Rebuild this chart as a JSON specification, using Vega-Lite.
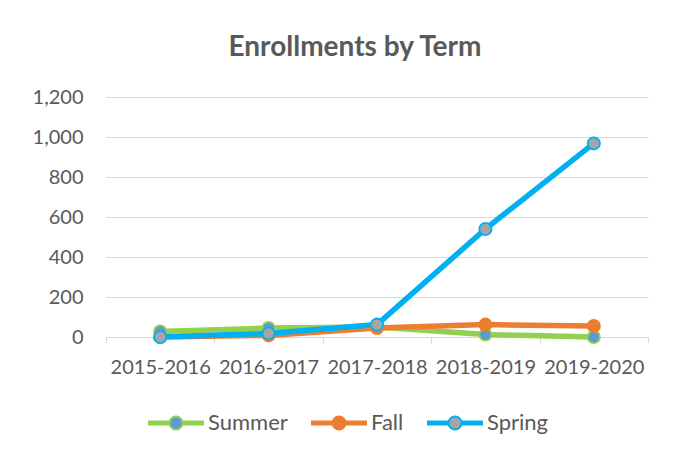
{
  "$schema": "https://vega.github.io/schema/vega-lite/v6.json",
  "width": 542,
  "height": 240,
  "autosize": {"type": "none"},
  "padding": {"left": 106, "top": 97, "right": 32, "bottom": 123},
  "background": "white",
  "title": {
    "text": "Enrollments by Term",
    "font": "Lato",
    "fontSize": 28,
    "fontWeight": "bold",
    "color": "#595959",
    "anchor": "middle",
    "frame": "group",
    "baseline": "alphabetic",
    "offset": 3,
    "dx": -22
  },
  "data": {
    "values": [
      {"term": "2015-2016", "series": "Summer", "value": 28},
      {"term": "2016-2017", "series": "Summer", "value": 45},
      {"term": "2017-2018", "series": "Summer", "value": 50},
      {"term": "2018-2019", "series": "Summer", "value": 12},
      {"term": "2019-2020", "series": "Summer", "value": 0},
      {"term": "2015-2016", "series": "Fall", "value": 0},
      {"term": "2016-2017", "series": "Fall", "value": 8},
      {"term": "2017-2018", "series": "Fall", "value": 45},
      {"term": "2018-2019", "series": "Fall", "value": 62},
      {"term": "2019-2020", "series": "Fall", "value": 55},
      {"term": "2015-2016", "series": "Spring", "value": 0},
      {"term": "2016-2017", "series": "Spring", "value": 18},
      {"term": "2017-2018", "series": "Spring", "value": 62},
      {"term": "2018-2019", "series": "Spring", "value": 540},
      {"term": "2019-2020", "series": "Spring", "value": 968}
    ]
  },
  "encoding": {
    "x": {
      "field": "term",
      "type": "ordinal",
      "scale": {"type": "band", "paddingInner": 0, "paddingOuter": 0},
      "axis": {
        "title": null,
        "labelAngle": 0,
        "labelFont": "Lato",
        "labelFontSize": 20,
        "labelColor": "#595959",
        "labelPadding": 14,
        "domainColor": "#D9D9D9",
        "domainWidth": 1,
        "tickColor": "#D9D9D9",
        "tickSize": 6,
        "tickBand": "extent",
        "grid": false
      }
    },
    "y": {
      "field": "value",
      "type": "quantitative",
      "scale": {"domain": [0, 1200], "nice": false},
      "axis": {
        "title": null,
        "values": [0, 200, 400, 600, 800, 1000, 1200],
        "format": ",d",
        "labelFont": "Lato",
        "labelFontSize": 20,
        "labelColor": "#595959",
        "labelPadding": 23,
        "ticks": false,
        "tickSize": 0,
        "domain": false,
        "grid": true,
        "gridColor": "#D9D9D9",
        "gridWidth": 1
      }
    }
  },
  "layer": [
    {
      "mark": {"type": "line", "strokeWidth": 5.5, "strokeCap": "round", "strokeJoin": "round"},
      "encoding": {
        "detail": {"field": "series"},
        "stroke": {
          "field": "series",
          "type": "nominal",
          "scale": {"domain": ["Summer", "Fall", "Spring"], "range": ["#92D050", "#ED7D31", "#00B0F0"]},
          "legend": {
            "orient": "none",
            "direction": "horizontal",
            "legendX": 41,
            "legendY": 297,
            "title": null,
            "padding": 0,
            "symbolType": "M-1,-0.054L-0.226,-0.054M-1,0L-0.232,0M-1,0.054L-0.226,0.054M0.226,-0.054L1,-0.054M0.232,0L1,0M0.226,0.054L1,0.054M0.232,0A0.232,0.232,0,1,1,-0.232,0A0.232,0.232,0,1,1,0.232,0Z",
            "symbolSize": 3136,
            "symbolStrokeWidth": 2,
            "symbolOpacity": 1,
            "labelFont": "Lato",
            "labelFontSize": 22,
            "labelColor": "#595959",
            "labelOffset": 3,
            "columnPadding": 19
          }
        }
      }
    },
    {
      "mark": {"type": "point", "filled": true, "size": 150, "strokeWidth": 1.8, "opacity": 1},
      "encoding": {
        "stroke": {
          "field": "series",
          "type": "nominal",
          "scale": {"domain": ["Summer", "Fall", "Spring"], "range": ["#92D050", "#ED7D31", "#00B0F0"]}
        },
        "fill": {
          "field": "series",
          "type": "nominal",
          "scale": {"domain": ["Summer", "Fall", "Spring"], "range": ["#5B9BD5", "#ED7D31", "#A5A5A5"]}
        }
      }
    }
  ],
  "config": {
    "view": {"stroke": null}
  }
}
